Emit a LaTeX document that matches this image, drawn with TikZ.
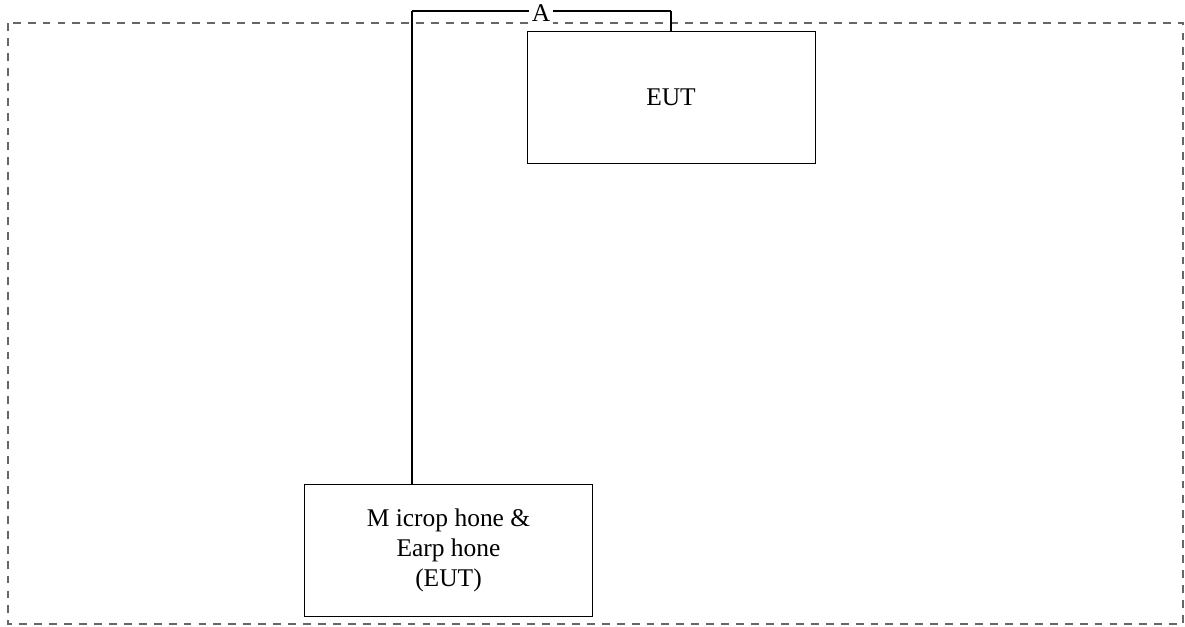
\documentclass[tikz,border=0pt]{standalone}
\usepackage{fontspec}
\setmainfont{Liberation Serif}
\usepackage{tikz}

\begin{document}
\begin{tikzpicture}[x=0.02cm, y=-0.02cm]
    \useasboundingbox (0,0) rectangle (1185,626);
    \tikzset{box/.style={shape=rectangle, draw=black, line width=0.5pt, minimum width=5.76cm, minimum height=2.64cm, align=center, font=\fontsize{14.5}{17}\selectfont},
             cable/.style={line width=1.1pt, color=black}}

    % test area
    \draw[dash pattern=on 4.5pt off 4pt, color=black!60, line width=0.6pt] (8,23) rectangle (1183,624);

    \node[box] (EUT) at (671,97) {EUT};
    \node[box] (M) at (448.5,550.5) {M icrop hone \&\\Earp hone\\(EUT)};

    \coordinate (P) at (412,11);
    \coordinate (Q) at (EUT.north |- P);

    \path[cable] (M.north -| P) edge (P);
    \path[cable] (P) edge (Q);
    \path[cable] (Q) edge (EUT.north);
    \node[fill=white, inner sep=1.5pt, font=\fontsize{14.5}{14.5}\selectfont] (A) at (541,13) {A};
\end{tikzpicture}
\end{document}
